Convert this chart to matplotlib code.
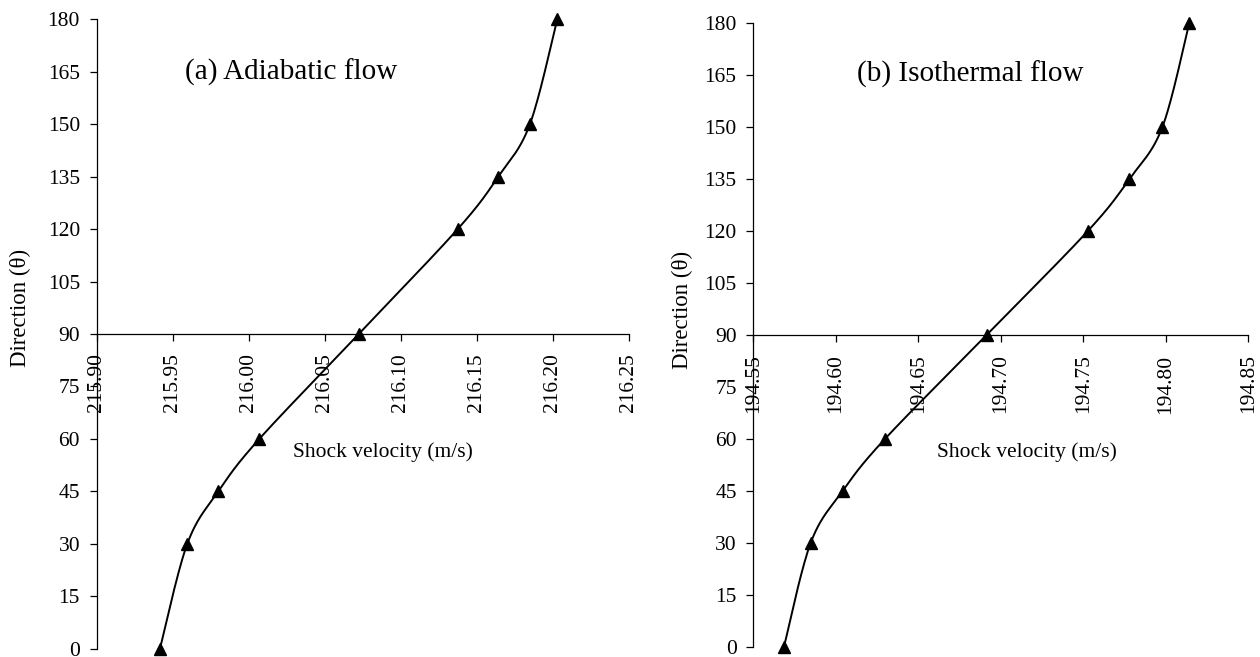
import numpy as np
import matplotlib
matplotlib.use("Agg")
import matplotlib.pyplot as plt

plt.rcParams['font.family'] = ['Liberation Serif', 'DejaVu Serif']

direction = [0, 30, 45, 60, 90, 120, 135, 150, 180]
adiabatic_velocity = [215.9416, 215.9596, 215.9800, 216.0070, 216.0724,
                      216.1375, 216.1642, 216.1850, 216.2030]
isothermal_velocity = [194.5686, 194.5848, 194.6042, 194.6298, 194.6914,
                       194.7527, 194.7779, 194.7979, 194.8142]

adiabatic_xticks = [215.90, 215.95, 216.00, 216.05, 216.10, 216.15, 216.20, 216.25]
isothermal_xticks = [194.55, 194.60, 194.65, 194.70, 194.75, 194.80, 194.85]
yticks = list(range(0, 181, 15))

titles = ["(a) Adiabatic flow", "(b) Isothermal flow"]
xlabel = "Shock velocity (m/s)"
ylabel = "Direction (\u03b8)"

W, H = 1260, 657
fig = plt.figure(figsize=(W / 100, H / 100), dpi=100)


def px_axes(x0, x1, ytop, ybot):
    return fig.add_axes([x0 / W, 1 - ybot / H, (x1 - x0) / W, (ybot - ytop) / H])


def smooth_line(ax, xs, ys, n=30):
    # Catmull-Rom style smoothing in display space (Excel-like smoothed line)
    fig.canvas.draw()
    pts = ax.transData.transform(np.column_stack([xs, ys]))
    P = np.vstack([pts[0], pts, pts[-1]])
    out = []
    for i in range(1, len(P) - 2):
        p0, p1, p2, p3 = P[i - 1], P[i], P[i + 1], P[i + 2]
        c1 = p1 + (p2 - p0) / 6.0
        c2 = p2 - (p3 - p1) / 6.0
        t = np.linspace(0, 1, n)[:, None]
        seg = ((1 - t) ** 3) * p1 + 3 * ((1 - t) ** 2) * t * c1 + 3 * (1 - t) * t ** 2 * c2 + t ** 3 * p2
        out.append(seg if i == 1 else seg[1:])
    out = np.vstack(out)
    data = ax.transData.inverted().transform(out)
    ax.plot(data[:, 0], data[:, 1], color='black', lw=1.4, solid_capstyle='round', zorder=3)


panels = [
    dict(box=(96.7, 628.7, 19.3, 648.7), x=adiabatic_velocity, xt=adiabatic_xticks,
         title=titles[0], tpos=(291, 72), xlpos=(383, 452), ylpos=(20, 308)),
    dict(box=(753.3, 1248.3, 23.3, 646.7), x=isothermal_velocity, xt=isothermal_xticks,
         title=titles[1], tpos=(970, 74), xlpos=(1027, 452), ylpos=(682, 310)),
]

for p in panels:
    ax = px_axes(*p['box'])
    ax.set_xlim(p['xt'][0], p['xt'][-1])
    ax.set_ylim(0, 180)
    ax.spines['top'].set_visible(False)
    ax.spines['right'].set_visible(False)
    ax.spines['bottom'].set_position(('data', 90))
    for s in ('left', 'bottom'):
        ax.spines[s].set_linewidth(0.9)
    ax.tick_params(axis='both', direction='out', length=5, width=0.9, labelsize=15.5, colors='black')
    ax.tick_params(axis='x', pad=9, labelrotation=90)
    ax.tick_params(axis='y', pad=7)
    ax.set_xticks(p['xt'])
    ax.set_xticklabels([f"{v:.2f}" for v in p['xt']])
    ax.set_yticks(yticks)
    ax.patch.set_alpha(0)
    smooth_line(ax, p['x'], direction)
    ax.plot(p['x'], direction, linestyle='none', marker='^', ms=9, color='black', zorder=4, clip_on=False)
    fig.text(p['tpos'][0] / W, 1 - p['tpos'][1] / H, p['title'], fontsize=21, ha='center', va='center')
    fig.text(p['xlpos'][0] / W, 1 - p['xlpos'][1] / H, xlabel, fontsize=15.5, ha='center', va='center')
    fig.text(p['ylpos'][0] / W, 1 - p['ylpos'][1] / H, ylabel, fontsize=16.5, ha='center', va='center', rotation=90)

fig.savefig("out.png", dpi=100)
